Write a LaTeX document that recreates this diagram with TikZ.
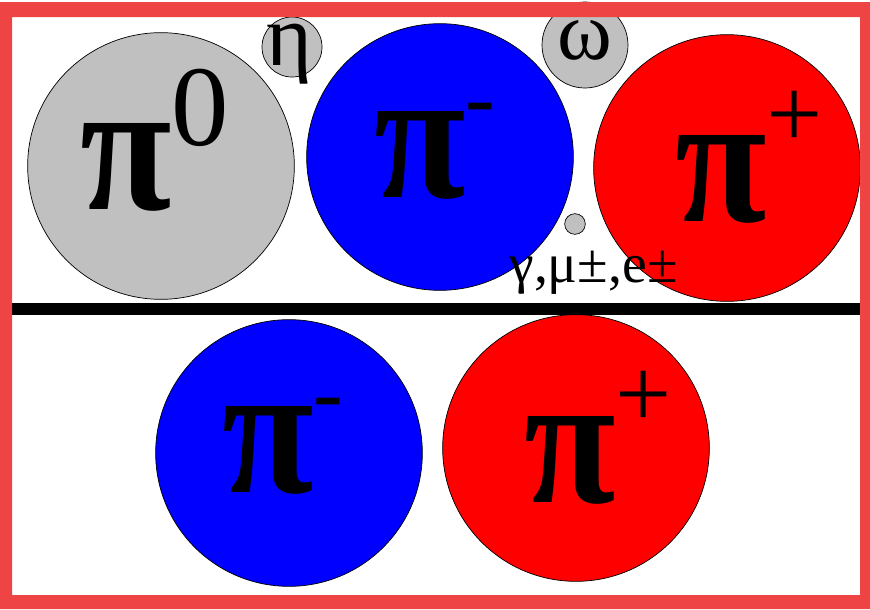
\documentclass[tikz,border=0pt]{standalone}
\usepackage{fontspec}
\setmainfont{Liberation Serif}
\definecolor{pframe}{RGB}{239,68,68}
\definecolor{psilver}{RGB}{192,192,192}
\definecolor{pblue}{RGB}{0,0,255}
\definecolor{pred}{RGB}{255,0,0}
% pion symbol with raised charge: raise, size, charge
\newcommand{\pion}[3]{\scalebox{0.89}[1]{\bfseries\fontsize{160}{160}\selectfont π}\raisebox{#1}{\fontsize{#2}{#2}\selectfont #3}}

\begin{document}
\begin{tikzpicture}[x=0.03cm,y=-0.03cm,
    ball/.style={circle,draw,line width=0.6pt,inner sep=0pt},
    big/.style={ball,minimum size=8cm},
    lbl/.style={anchor=base west,inner sep=0pt},
    small/.style={anchor=base,inner sep=0pt,text height=0.5em,text depth=0.2em}]
  \useasboundingbox (0,0) rectangle (870,609);

  % upper row
  \node[big,fill=psilver] (pizero) at (161,166) {};
  \node[ball,fill=psilver,minimum size=1.8cm] (eta) at (292,47) {};
  \node[big,fill=pblue] (piminus) at (440,157) {};
  \node[ball,fill=psilver,minimum size=2.58cm] (omega) at (585,45) {};
  \node[big,fill=pred] (piplus) at (727,168) {};
  \node[ball,fill=psilver,minimum size=0.62cm] (lepton) at (575,224) {};

  % lower row
  \node[big,fill=pblue] (piminuslow) at (289,453) {};
  \node[big,fill=pred] (pipluslow) at (576,448) {};

  \node[lbl] (pizerolbl) at (80,209) {\pion{53.8pt}{98}{0}};
  \node[lbl] (piminuslbl) at (374,197) {\pion{59pt}{76}{-}};
  \node[lbl] (pipluslbl) at (675,221) {\pion{63pt}{85}{+}};
  \node[lbl] (piminuslowlbl) at (222,492) {\pion{59pt}{76}{-}};
  \node[lbl] (pipluslowlbl) at (524,502) {\pion{64pt}{85}{+}};
  \node[small,font=\fontsize{75}{75}\selectfont] (etalbl) at (289.5,65.5) {η};
  \node[small,font=\fontsize{71}{71}\selectfont] (omegalbl) at (585,59.3) {ω};
  \node[anchor=base,inner sep=0pt,font=\fontsize{47.5}{47.5}\selectfont] (decaylbl) at (593.5,282) {γ,μ±,e±};

  % divider and frame
  \fill (12,303) rectangle (860,315);
  \fill[pframe,even odd rule] (0,2) rectangle (870,609) (12,17) rectangle (860,595);
\end{tikzpicture}
\end{document}
